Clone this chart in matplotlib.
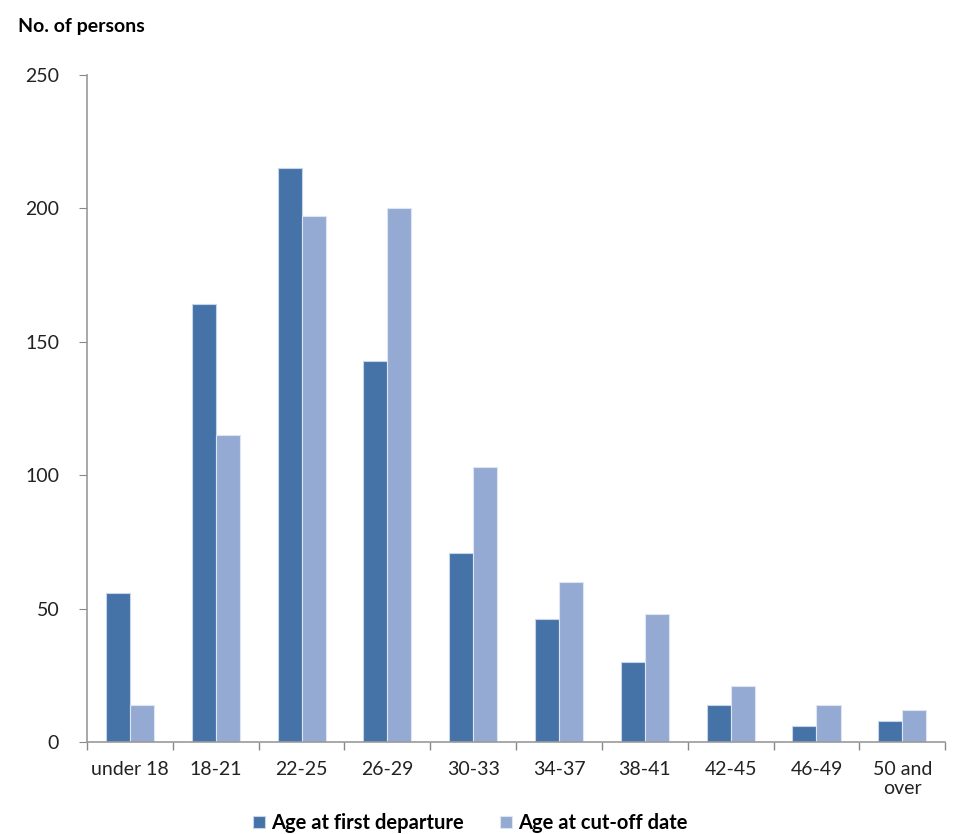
import numpy as np
import matplotlib
matplotlib.use("Agg")
import matplotlib.pyplot as plt

categories = ["under 18", "18-21", "22-25", "26-29", "30-33", "34-37",
              "38-41", "42-45", "46-49", "50 and\nover"]
first_departure = [56, 164, 215, 143, 71, 46, 30, 14, 6, 8]
cut_off_date = [14, 115, 197, 200, 103, 60, 48, 21, 14, 12]
series_names = ["Age at first departure", "Age at cut-off date"]

plt.rcParams['font.family'] = ['Lato', 'DejaVu Sans']

fig = plt.figure(figsize=(9.6, 8.34), dpi=100)
ax = fig.add_axes([0.0906, 0.1103, 0.894, 0.7997])

x = np.arange(len(categories))
w = 0.28
ax.bar(x - w / 2, first_departure, w, color="#4572A7", edgecolor="#c8d4e8",
       linewidth=0.8, label=series_names[0])
ax.bar(x + w / 2, cut_off_date, w, color="#95AAD3", edgecolor="#dde5f2",
       linewidth=0.8, label=series_names[1])

ax.set_xlim(-0.5, len(categories) - 0.5)
ax.set_ylim(0, 250)
ax.set_yticks([0, 50, 100, 150, 200, 250])
ax.set_xticks(x)
ax.set_xticklabels(categories, fontsize=14, color="#222222", linespacing=1.1)
ax.set_xticks(np.arange(-0.5, len(categories), 1), minor=True)
ax.tick_params(axis="x", which="major", length=0, pad=14)
ax.tick_params(axis="x", which="minor", length=6, color="#888888", width=1)
ax.tick_params(axis="y", length=6, color="#888888", labelsize=14,
               labelcolor="#222222", pad=14)

for s in ["top", "right"]:
    ax.spines[s].set_visible(False)
for s in ["left", "bottom"]:
    ax.spines[s].set_color("#999999")
    ax.spines[s].set_linewidth(1.2)

fig.text(0.019, 0.978, "No. of persons", fontsize=14, fontweight="bold",
         va="top", ha="left")

fig.legend(loc="center", bbox_to_anchor=(0.49, 0.013), ncol=2, frameon=False,
           handlelength=0.6, handleheight=0.6,
           handletextpad=0.3, columnspacing=1.8,
           prop={"family": ['Lato', "DejaVu Sans"], "weight": "bold", "size": 14.5})

fig.savefig("out.png", dpi=100)
